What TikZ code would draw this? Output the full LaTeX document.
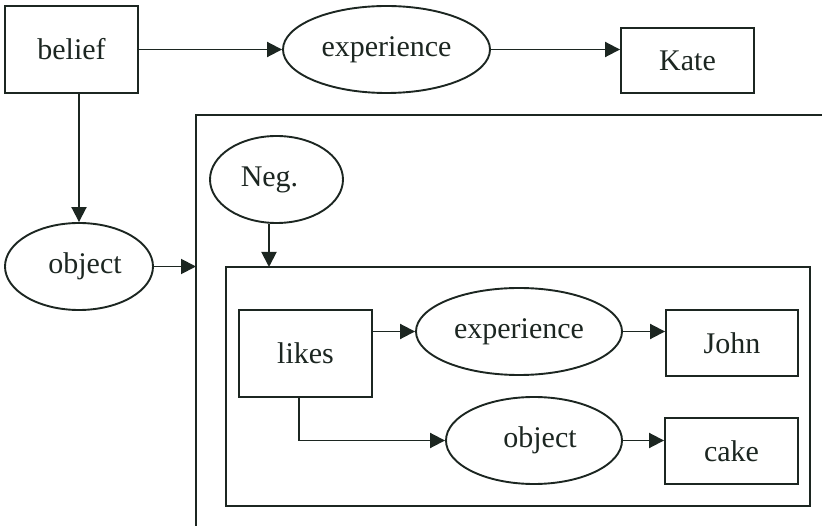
\documentclass[tikz,border=0pt]{standalone}
\usepackage{fontspec}
\setmainfont{Liberation Serif}
\usetikzlibrary{arrows.meta,shapes.geometric}
\definecolor{ink}{RGB}{28,38,33}
\begin{document}
\begin{tikzpicture}[x=1pt,y=-1pt,
  every node/.style={font=\fontsize{30}{36}\selectfont, text=ink, inner sep=0pt},
  rbox/.style={draw=ink, line width=1.9pt, rectangle},
  ell/.style={draw=ink, line width=1.9pt, ellipse},
  conn/.style={draw=ink, line width=1.9pt, -{Triangle[length=15pt,width=15pt]}}]
\useasboundingbox (0,0) rectangle (822,526);
% top row
\node[rbox, minimum width=133pt, minimum height=87pt] (belief) at (71.5,49.5) {belief};
\node[ell, minimum width=207pt, minimum height=87pt] (exp1) at (386.5,49.5) {experience};
\node[rbox, minimum width=133pt, minimum height=65pt] (kate) at (687.5,60.5) {Kate};
% big open frame
\coordinate (bigTL) at (196,115);
\coordinate (bigBL) at (196,526);
\coordinate (bigTR) at (822,115);
\coordinate (bigL) at (196,266.5);
\draw[ink, line width=1.9pt] (bigBL) -- (bigTL) -- (bigTR);
\node[ell, minimum width=148pt, minimum height=87pt] (obj1) at (79,266.5) {\hspace*{12pt}object};
\node[ell, minimum width=133pt, minimum height=87pt] (neg) at (276.5,179.5) {Neg.\hspace*{14pt}};
% inner box
\node[rbox, minimum width=584pt, minimum height=239pt] (inner) at (518,386.5) {};
\coordinate (negtip) at (269,267);
\node[rbox, minimum width=133pt, minimum height=87pt] (likes) at (305.5,353.5) {likes};
\node[ell, minimum width=206pt, minimum height=87pt] (exp2) at (519,331.5) {experience};
\node[rbox, minimum width=132pt, minimum height=66pt] (john) at (732,343) {John};
\node[ell, minimum width=176pt, minimum height=87pt] (obj2) at (534,440.5) {\hspace*{12pt}object};
\node[rbox, minimum width=133pt, minimum height=66pt] (cake) at (731.5,451) {cake};
\coordinate (bend) at (299,440.5);
% connectors
\draw[conn] (belief.east) -- (exp1.west);
\draw[conn] (exp1.east) -- (exp1.east -| kate.west);
\draw[conn] (obj1.north |- belief.south) -- (obj1.north);
\draw[conn] (obj1.east) -- (bigL);
\draw[conn] (neg.south -| negtip) -- (negtip);
\draw[conn] (likes.east |- exp2.west) -- (exp2.west);
\draw[conn] (exp2.east) -- (exp2.east -| john.west);
\draw[conn] (likes.south -| bend) -- (bend) -- (obj2.west);
\draw[conn] (obj2.east) -- (obj2.east -| cake.west);
\end{tikzpicture}
\end{document}
